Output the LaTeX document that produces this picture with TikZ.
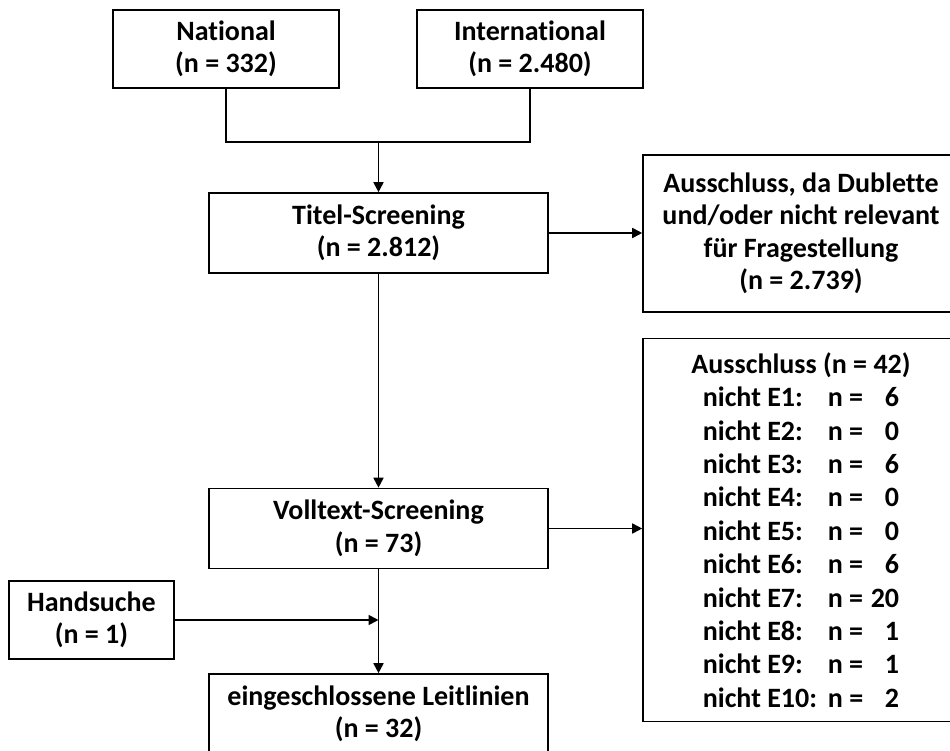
\documentclass[tikz,border=0pt]{standalone}
\usepackage{fontspec}
\setmainfont{Carlito}[Ligatures=NoCommon]
\usetikzlibrary{arrows.meta}
\tikzset{
  box/.style={draw=black, line width=1.6pt, inner sep=0pt, align=center,
    font=\fontsize{28}{32.5}\selectfont\bfseries},
  conn/.style={line width=1.7pt},
  arr/.style={line width=1.7pt, -{Triangle[length=10pt,width=10pt]}}
}
\newcommand{\exrow}[2]{\makebox[125pt][l]{nicht E#1:}n =\makebox[36pt][r]{#2}}
\begin{document}
\begin{tikzpicture}[x=1pt,y=-1pt]
\useasboundingbox (0,0) rectangle (950,751);
\clip (0,0) rectangle (950,751);
\node[box, minimum width=226pt, minimum height=78pt] (nat) at (226,49) {National\\(n = 332)};
\node[box, minimum width=226pt, minimum height=78pt] (int) at (530,49) {International\\(n = 2.480)};
\node[box, minimum width=339pt, minimum height=80pt] (titel) at (378.5,233) {Titel-Screening\\(n = 2.812)};
\node[box, minimum width=316pt, minimum height=157pt] (aus1) at (801,233.5) {Ausschluss, da Dublette\\und/oder nicht relevant\\für Fragestellung\\(n = 2.739)};
\node[box, minimum width=316pt, minimum height=383pt, font=\fontsize{28}{33.4}\selectfont\bfseries] (aus2) at (801,530) {Ausschluss (n = 42)\\\exrow{1}{6}\\\exrow{2}{0}\\\exrow{3}{6}\\\exrow{4}{0}\\\exrow{5}{0}\\\exrow{6}{6}\\\exrow{7}{20}\\\exrow{8}{1}\\\exrow{9}{1}\\\exrow{10}{2}};
\node[box, minimum width=339pt, minimum height=80pt] (voll) at (378.5,528.5) {Volltext-Screening\\(n = 73)};
\node[box, minimum width=165pt, minimum height=78pt] (hand) at (91.5,620) {Handsuche\\(n = 1)};
\node[box, minimum width=339pt, minimum height=80pt] (final) at (378.5,714) {eingeschlossene Leitlinien\\(n = 32)};
\coordinate (j1) at (378.5,142);
\coordinate (j2) at (378.5,620);
\draw[conn] (nat.south) |- (j1) -| (int.south);
\draw[arr] (j1) -- (titel.north);
\draw[arr] (titel.east) -- (titel.east -| aus1.west);
\draw[arr] (titel.south) -- (voll.north);
\draw[arr] (voll.east) -- (voll.east -| aus2.west);
\draw[arr] (voll.south) -- (final.north);
\draw[arr] (hand.east) -- (j2);
\end{tikzpicture}
\end{document}
